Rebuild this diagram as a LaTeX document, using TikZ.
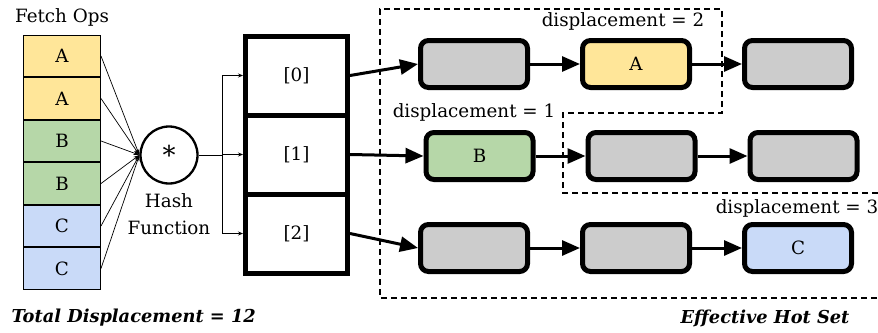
\documentclass[tikz,border=0pt]{standalone}
\usepackage{fontspec}
\setmainfont{DejaVu Serif}
\usepackage{tikz}
\usetikzlibrary{arrows.meta, positioning}

\definecolor{opA}{HTML}{FFE699}
\definecolor{opB}{HTML}{B6D7A8}
\definecolor{opC}{HTML}{C9DAF8}
\definecolor{slot}{HTML}{CCCCCC}

\begin{document}
\begin{tikzpicture}[x=1pt, y=-1pt, font=\fontsize{18.3}{21}\selectfont, >={Triangle[length=18pt, width=15pt]}]
    \tikzstyle{op} = [draw, line width=1pt, minimum width=77pt, minimum height=41.5pt, inner sep=0pt]
    \tikzstyle{bucket} = [draw, line width=5pt, minimum width=102pt, minimum height=79pt]
    \tikzstyle{entry} = [draw, line width=5pt, rounded corners=8pt, minimum width=107pt, minimum height=47pt, fill=slot]
    \tikzstyle{link} = [->, line width=3pt]
    \tikzstyle{feed} = [-{Stealth[length=6pt, width=4pt]}, line width=0.7pt]
    \tikzstyle{hotset} = [line width=1.3pt, dash pattern=on 6pt off 4pt]
    \tikzstyle{total} = [font=\fontsize{17.8}{21}\selectfont\bfseries\itshape]
    \useasboundingbox (0,0) rectangle (878,332);

    % fetch ops
    \node at (62,17) (fetchlbl) {Fetch Ops};
    \node [op, fill=opA] at (62,56) (op1) {A};
    \node [op, fill=opA, below=0pt of op1] (op2) {A};
    \node [op, fill=opB, below=0pt of op2] (op3) {B};
    \node [op, fill=opB, below=0pt of op3] (op4) {B};
    \node [op, fill=opC, below=0pt of op4] (op5) {C};
    \node [op, fill=opC, below=0pt of op5] (op6) {C};

    % hash function
    \node [draw, circle, line width=2.3pt, minimum size=57pt, font=\fontsize{26}{26}\selectfont] at (169,155) (hash) {*};
    \node [align=center, font=\fontsize{18.3}{27}\selectfont] at (169,214) (hashlbl) {Hash\\Function};
    \foreach \i in {1,...,6}
        \draw[feed] (op\i.east) -- (hash.west);

    % buckets
    \node [bucket] at (296.5,75.5) (cell0) {[0]};
    \node [bucket] at (296.5,154.5) (cell1) {[1]};
    \node [bucket] at (296.5,233.5) (cell2) {[2]};
    \coordinate (fork) at (222,155);
    \draw[line width=0.8pt] (hash.east) -- (fork);
    \foreach \i in {0,1,2}
        \draw[-{Stealth[length=5pt, width=4pt]}, line width=0.8pt] (fork) |- (cell\i.west);

    % chains
    \node [entry] at (474,64) (e00) {};
    \node [entry, fill=opA, right=50pt of e00] (e01) {A};
    \node [entry, right=50pt of e01] (e02) {};
    \node [entry, fill=opB] at (479.5,156) (e10) {B};
    \node [entry, right=50pt of e10] (e11) {};
    \node [entry, right=50pt of e11] (e12) {};
    \node [entry] at (474,248) (e20) {};
    \node [entry, right=50pt of e20] (e21) {};
    \node [entry, fill=opC, right=50pt of e21] (e22) {C};

    \draw[link] (cell0.east) -- (e00.west);
    \draw[link] (cell1.east) -- (e10.west);
    \draw[link] (cell2.east) -- (e20.west);
    \foreach \r in {0,1,2} {
        \draw[link] (e\r0.east) -- (e\r1.west);
        \draw[link] (e\r1.east) -- (e\r2.west);
    }

    % effective hot set
    \draw[hotset] (878,193) -- (563,193) -- (563,113) -- (722,113) -- (722,9) -- (380,9) -- (380,298) -- (878,298);
    \node at (623,21) (disp0) {displacement = 2};
    \node at (474,112) (disp1) {displacement = 1};
    \node at (797,208) (disp2) {displacement = 3};

    \node [total, anchor=west] at (8,318) (totallbl) {Total Displacement = 12};
    \node [total, anchor=east] at (853,318) (hotlbl) {Effective Hot Set};
\end{tikzpicture}
\end{document}
